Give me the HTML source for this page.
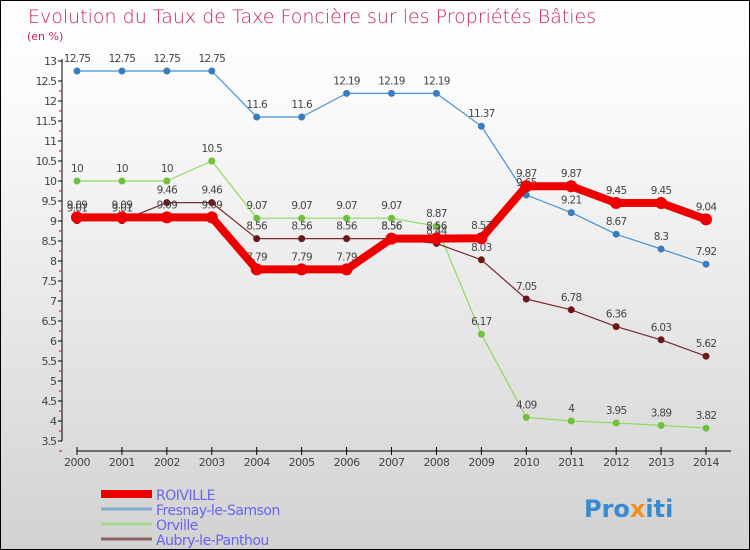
<!DOCTYPE html>
<html><head><meta charset="utf-8"><style>
body{margin:0}
#c{width:750px;height:550px;position:relative;background:linear-gradient(#fff,#fafafa 20%,#d2d2d2);border:1px solid #000;box-sizing:border-box;overflow:hidden;font-family:"DejaVu Sans","Liberation Sans",sans-serif}
svg text{font-family:"DejaVu Sans","Liberation Sans",sans-serif}
</style></head><body>
<div id="c">
<svg id="s" width="750" height="550">
<text x="27" y="22" font-size="19" fill="#c8245a" style="font-weight:200">Evolution du Taux de Taxe Foncière sur les Propriétés Bâties</text>
<text x="26" y="39" font-size="11" fill="#c8245a">(en %)</text>
</svg>
</div>
<script>
const years=[2000,2001,2002,2003,2004,2005,2006,2007,2008,2009,2010,2011,2012,2013,2014];
const yTicks=[3.5,4,4.5,5,5.5,6,6.5,7,7.5,8,8.5,9,9.5,10,10.5,11,11.5,12,12.5,13];
const roiville=[9.09,9.09,9.09,9.09,7.79,7.79,7.79,8.56,8.56,8.57,9.87,9.87,9.45,9.45,9.04];
const fresnay=[12.75,12.75,12.75,12.75,11.6,11.6,12.19,12.19,12.19,11.37,9.65,9.21,8.67,8.3,7.92];
const orville=[10,10,10,10.5,9.07,9.07,9.07,9.07,8.87,6.17,4.09,4,3.95,3.89,3.82];
const aubry=[9.01,9.01,9.46,9.46,8.56,8.56,8.56,8.56,8.44,8.03,7.05,6.78,6.36,6.03,5.62];
const names=['ROIVILLE','Fresnay-le-Samson','Orville','Aubry-le-Panthou'];
const NS='http://www.w3.org/2000/svg';
const s=document.getElementById('s');
const X=i=>76+i*44.93;
const Y=v=>60+(13-v)*40;
function mk(t,a,p){const e=document.createElementNS(NS,t);for(const k in a)e.setAttribute(k,a[k]);(p||s).appendChild(e);return e;}
// axes
let ya=mk('line',{x1:61,y1:58,x2:61,y2:440,stroke:'#000'});


yTicks.forEach(v=>{
 mk('line',{x1:57,y1:Y(v),x2:61,y2:Y(v),stroke:'#000'});
 mk('line',{x1:58,y1:Y(v)+10,x2:61,y2:Y(v)+10,stroke:v<13?'#e00':'none'});
 let t=mk('text',{x:55,y:Y(v)+4,'font-size':11,'text-anchor':'end',fill:'#444','letter-spacing':'-1'});
 t.textContent=String(v);
 
 
});
let xa=mk('line',{x1:X(0),y1:450,x2:730,y2:450,stroke:'#000'});


years.forEach((y,i)=>{
 mk('line',{x1:X(i),y1:446,x2:X(i),y2:454,stroke:'#000'});
 let t=mk('text',{x:X(i),y:465,'font-size':11,'text-anchor':'middle',fill:'#444','letter-spacing':'-0.5'});
 t.textContent=String(y);
 
 
});
function series(d,col,w,r,fill,nm){
 const g=mk('g',{});
 
 
 mk('polyline',{points:d.map((v,i)=>X(i)+','+Y(v)).join(' '),fill:'none',stroke:col,'stroke-width':w,'stroke-linejoin':'round'},g);
 d.forEach((v,i)=>{
  let c=mk('circle',{cx:X(i),cy:Y(v),r:r,fill:fill},g);
  
  
  let t=mk('text',{x:X(i),y:Y(v)-9,'font-size':10.5,'text-anchor':'middle',fill:'#444','letter-spacing':'-0.7'},g);
  t.textContent=String(v);
  
  
 });
}
series(fresnay,'#4a90d0',1.2,3.5,'#3a7cc0','fresnay');
series(orville,'#90d860',1.2,3.5,'#70c040','orville');
series(aubry,'#7a2a2a',1.2,3.5,'#6a1818','aubry');
series(roiville,'#ee0000',8,6,'#ee0000','roiville');
// legend
const lc=['#ee0000','#80aed0','#a8d890','#8a6060'],lw=[8,3,3,3];
names.forEach((n,i)=>{
 const g=mk('g',{});
 
 
 const y=493+i*15;
 mk('line',{x1:100,y1:y,x2:151,y2:y,stroke:lc[i],'stroke-width':lw[i]},g);
 let t=mk('text',{x:155,y:y+6,'font-size':14,fill:'#6666ee','letter-spacing':'-0.5'},g);
 t.textContent=n;
});
// logo
const lg=mk('text',{x:583,y:516,'font-size':24,'font-weight':'bold',fill:'#3a8ad0'});


lg.innerHTML='Pro<tspan fill="#f09020">x</tspan>iti';
</script>
</body></html>
